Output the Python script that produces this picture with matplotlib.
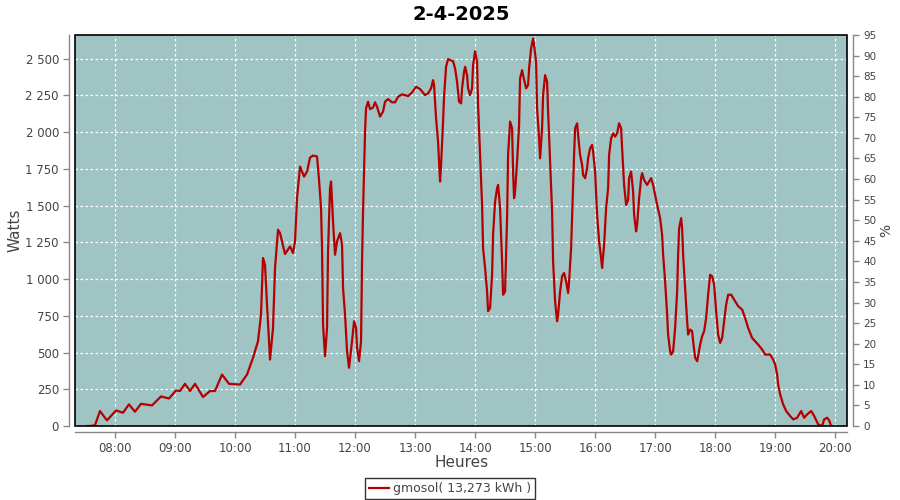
import matplotlib
matplotlib.use("Agg")
import matplotlib.pyplot as plt
from matplotlib.ticker import MultipleLocator, FuncFormatter
from matplotlib.patches import Rectangle

# Production solaire du 2-4-2025 (relevé à la minute près sur le graphique)
heures = [
    "07:33", "07:35", "07:40", "07:45", "07:52", "08:01", "08:08", "08:14", "08:20", "08:26",
    "08:37", "08:46", "08:54", "09:01", "09:05", "09:10", "09:15", "09:20", "09:28", "09:35",
    "09:40", "09:47", "09:54", "10:05", "10:12", "10:18", "10:23", "10:26", "10:28", "10:30",
    "10:32", "10:35", "10:38", "10:40", "10:43", "10:45", "10:50", "10:55", "10:58", "11:00",
    "11:02", "11:05", "11:09", "11:12", "11:15", "11:18", "11:22", "11:24", "11:26", "11:27",
    "11:28", "11:30", "11:32", "11:33", "11:35", "11:36", "11:38", "11:40", "11:42", "11:45",
    "11:47", "11:48", "11:50", "11:52", "11:54", "11:57", "11:59", "12:01", "12:02", "12:04",
    "12:06", "12:07", "12:08", "12:10", "12:11", "12:13", "12:15", "12:18", "12:20", "12:22",
    "12:25", "12:28", "12:30", "12:33", "12:37", "12:40", "12:43", "12:47", "12:50", "12:53",
    "12:57", "13:01", "13:05", "13:10", "13:13", "13:16", "13:18", "13:19", "13:21", "13:23",
    "13:24", "13:25", "13:26", "13:28", "13:29", "13:31", "13:33", "13:36", "13:38", "13:40",
    "13:42", "13:44", "13:46", "13:47", "13:49", "13:50", "13:52", "13:53", "13:55", "13:57",
    "13:58", "14:00", "14:02", "14:03", "14:05", "14:07", "14:08", "14:10", "14:12", "14:13",
    "14:15", "14:17", "14:18", "14:20", "14:22", "14:23", "14:25", "14:27", "14:28", "14:30",
    "14:32", "14:33", "14:35", "14:37", "14:38", "14:39", "14:40", "14:42", "14:44", "14:45",
    "14:47", "14:48", "14:51", "14:53", "14:54", "14:56", "14:58", "14:59", "15:01", "15:02",
    "15:04", "15:05", "15:07", "15:08", "15:10", "15:12", "15:13", "15:15", "15:17", "15:18",
    "15:20", "15:22", "15:23", "15:25", "15:27", "15:29", "15:31", "15:33", "15:34", "15:36",
    "15:38", "15:39", "15:40", "15:42", "15:43", "15:45", "15:47", "15:48", "15:50", "15:52",
    "15:53", "15:55", "15:57", "15:58", "16:00", "16:02", "16:04", "16:06", "16:07", "16:09",
    "16:11", "16:13", "16:14", "16:16", "16:18", "16:20", "16:22", "16:24", "16:26", "16:27",
    "16:29", "16:31", "16:33", "16:34", "16:36", "16:38", "16:39", "16:41", "16:42", "16:44",
    "16:46", "16:47", "16:49", "16:52", "16:54", "16:56", "16:58", "17:00", "17:02", "17:05",
    "17:07", "17:08", "17:10", "17:12", "17:13", "17:15", "17:16", "17:18", "17:20", "17:22",
    "17:23", "17:24", "17:26", "17:27", "17:28", "17:30", "17:32", "17:33", "17:35", "17:37",
    "17:38", "17:40", "17:42", "17:43", "17:45", "17:47", "17:49", "17:51", "17:53", "17:55",
    "17:57", "17:59", "18:01", "18:03", "18:05", "18:07", "18:09", "18:11", "18:13", "18:16",
    "18:19", "18:23", "18:27", "18:30", "18:33", "18:37", "18:40", "18:43", "18:47", "18:50",
    "18:55", "18:58", "19:00", "19:02", "19:03", "19:05", "19:08", "19:11", "19:15", "19:18",
    "19:22", "19:26", "19:29", "19:32", "19:36", "19:39", "19:43", "19:47", "19:49", "19:52",
    "19:54", "19:56",
]
watts = [
    0, 0, 5, 102, 38, 106, 90, 147, 97, 151,
    140, 201, 187, 242, 238, 287, 238, 287, 197, 238,
    238, 350, 287, 282, 350, 464, 577, 758, 1143, 1097,
    826, 452, 667, 1075, 1335, 1312, 1170, 1222, 1177, 1256,
    1550, 1765, 1697, 1731, 1826, 1840, 1833, 1674, 1482, 1210,
    690, 475, 667, 1188, 1618, 1663, 1392, 1165, 1256, 1312,
    1233, 939, 758, 509, 396, 577, 713, 667, 532, 441,
    577, 1120, 1460, 2003, 2161, 2206, 2156, 2166, 2202, 2172,
    2105, 2139, 2206, 2224, 2202, 2202, 2240, 2256, 2251, 2244,
    2269, 2308, 2292, 2251, 2263, 2297, 2353, 2319, 2093, 1935,
    1799, 1663, 1776, 2071, 2240, 2444, 2496, 2487, 2482, 2432,
    2342, 2206, 2195, 2297, 2410, 2444, 2387, 2297, 2251, 2297,
    2455, 2550, 2478, 2183, 1844, 1504, 1210, 1075, 916, 781,
    803, 1029, 1301, 1527, 1618, 1640, 1482, 1120, 893, 916,
    1414, 1844, 2071, 2025, 1731, 1550, 1595, 1799, 2048, 2365,
    2421, 2387, 2297, 2319, 2432, 2568, 2636, 2591, 2478, 2161,
    1957, 1821, 2025, 2251, 2387, 2342, 2139, 1799, 1460, 1120,
    849, 713, 758, 916, 1018, 1041, 984, 905, 984, 1210,
    1640, 1844, 2025, 2059, 1980, 1844, 1776, 1708, 1686, 1754,
    1821, 1889, 1912, 1867, 1731, 1437, 1256, 1143, 1075, 1233,
    1482, 1618, 1844, 1957, 1991, 1969, 1991, 2059, 2025, 1889,
    1640, 1504, 1538, 1686, 1731, 1595, 1437, 1324, 1369, 1550,
    1686, 1720, 1674, 1640, 1663, 1686, 1640, 1572, 1504, 1414,
    1301, 1165, 984, 758, 622, 509, 486, 509, 667, 916,
    1165, 1346, 1414, 1346, 1165, 939, 713, 622, 656, 645,
    577, 464, 441, 475, 554, 611, 645, 735, 893, 1029,
    1018, 961, 781, 622, 565, 599, 713, 826, 893, 893,
    860, 815, 792, 735, 667, 599, 577, 554, 520, 486,
    486, 452, 418, 350, 282, 215, 147, 102, 68, 45,
    56, 102, 56, 79, 102, 68, 11, 0, 45, 56,
    38, 0,
]

titre = "2-4-2025"
legende = "gmosol( 13,273 kWh )"
puissance_max = 2800  # 100 % sur l'axe de droite

# heures décimales
x = [int(h[:2]) + int(h[3:]) / 60 for h in heures]

fond = "#a0c4c4"
rouge = "#b40000"
gris = "#444444"

fig = plt.figure(figsize=(9, 5), dpi=100)
ax = fig.add_axes([0.0833, 0.148, 0.858, 0.782])
ax.set_facecolor(fond)

ax.plot(x, watts, color=rouge, linewidth=1.6, label=legende, zorder=3)

ax.set_xlim(7 + 20 / 60, 20 + 12 / 60)
ax.set_ylim(0, 2660)
ax.xaxis.set_major_locator(MultipleLocator(1))
ax.xaxis.set_major_formatter(FuncFormatter(lambda v, p: f"{int(round(v)):02d}:00"))
ax.yaxis.set_major_locator(MultipleLocator(250))
ax.yaxis.set_major_formatter(FuncFormatter(lambda v, p: f"{v:,.0f}".replace(",", " ")))

ax.grid(True, color="white", linestyle=(0, (2, 2)), linewidth=0.9, zorder=1)

# axe de droite en %
ax2 = ax.twinx()
ax2.set_ylim(0, 2660 / puissance_max * 100)
ax2.yaxis.set_major_locator(MultipleLocator(5))

for a in (ax, ax2):
    for s in a.spines.values():
        s.set_color("#888888")
        s.set_linewidth(1)
    a.spines["top"].set_visible(False)
    a.tick_params(colors="#888888", labelcolor=gris, labelsize=8.5, length=4, width=1)
ax.spines["right"].set_visible(False)
ax2.spines["left"].set_visible(False)
ax2.spines["bottom"].set_visible(False)
ax.spines["left"].set_position(("outward", 4))
ax.spines["bottom"].set_position(("outward", 4))
ax2.spines["right"].set_position(("outward", 4))
ax2.tick_params(labelsize=7.5)

# cadre noir du graphique
ax.add_patch(Rectangle((0, 0), 1, 1, transform=ax.transAxes, fill=False,
                       edgecolor="black", linewidth=1.2, clip_on=False, zorder=5))

ax.set_title(titre, fontsize=14, fontweight="bold", color="black", pad=11)
ax.set_xlabel("Heures", fontsize=11, color=gris, labelpad=0)
ax.set_ylabel("Watts", fontsize=11, color=gris, labelpad=2)
ax2.set_ylabel("%", fontsize=10, color=gris, labelpad=2)

leg = fig.legend(loc="lower center", bbox_to_anchor=(0.5, -0.01), fontsize=9,
                 frameon=True, fancybox=False, edgecolor="black", handlelength=1.6,
                 handletextpad=0.3, borderpad=0.3, labelcolor=gris)
leg.get_frame().set_linewidth(1)

fig.savefig("out.png", dpi=100)
